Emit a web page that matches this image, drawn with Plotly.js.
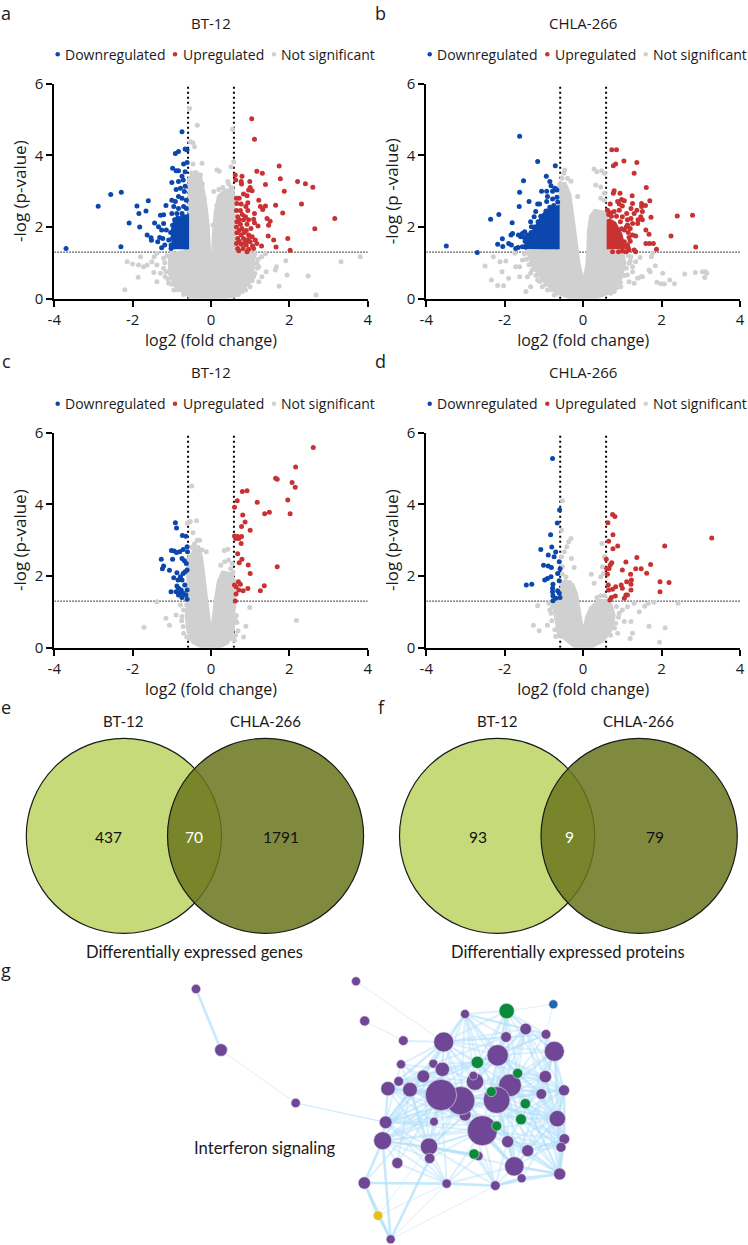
<!DOCTYPE html>
<html><head><meta charset="utf-8">
<script src="https://cdn.plot.ly/plotly-3.0.1.min.js"></script>
<style>html,body{margin:0;padding:0;background:#fff}#c{width:748px;height:1245px}</style>
</head><body><div id="c"></div>
<script>
// ---------- volcano data: [log2 fold change, -log p] ----------
const aGrayCore=[[-.6,3.3],[-.45,3.45],[-.27,3.35],[-.2,3],[-.13,2.5],[-.08,2],[-.05,1.3],[-.03,.8],[0,.45],[.03,.8],[.05,1.3],[.08,1.9],[.12,2.4],[.2,2.85],[.35,3],[.55,3.05],[.57,2.8],[.58,1.35],[1,1.3],[1.1,1],[1,.6],[.85,.3],[.6,.08],[0,0],[-.53,.05],[-.9,.35],[-1.05,.7],[-1.05,1.2],[-.6,1.35]];
const aGray=[[-.55,5.31],[-.35,4.84],[.55,4.73],[-.53,4.38],[-.46,4.35],[-.42,4.24],[-.23,3.78],[-.46,3.76],[.58,3.82],[.51,3.68],[.15,3.59],[.21,3.56],[.43,3.27],[.07,2.99],[.05,2.06],[-.36,3.5],[-.27,3.45],[-2.14,1.03],[-2,.97],[-2.2,.25],[-1.86,.6],[-1.85,.94],[-1.72,.89],[-1.63,.94],[-1.8,1.17],[-1.45,1.17],[-1.38,1.27],[-1.51,1.03],[-1.38,.94],[-1.46,.73],[-1.38,.47],[-1.29,.71],[-1.21,.85],[-1.21,1.13],[-1.08,.43],[-1.17,.61],[-.95,.24],[3.81,1.17],[3.32,1.03],[2.68,.1],[2.48,.63],[1.94,.66],[1.74,.35],[1.91,1.06],[1.67,.89],[1.64,.8],[1.22,.47],[1.09,.61],[1.41,.75],[1.3,.61],[1.05,.99],[1.17,.99],[1.29,1.17],[1.39,1.25],[1.09,1.17],[1.22,.89],[1,.33],[.88,.24],[1.12,1.25],[1.2,1.1],[1.18,.85],[1.12,.7],[1.05,.5],[.95,.4],[.8,.2],[.7,.12],[-.7,.12],[-.85,.25],[-1,.4],[-1.1,.55],[-1.15,.75],[-1.18,1],[-1.12,1.2],[-1,1.28],[-.55,3.3],[-.5,3.5],[-.4,3.52],[-.3,3.4],[-.22,3.2],[-.17,2.8],[.15,2.6],[.2,3.05],[.3,3.1],[.45,3.2],[.52,3.1],[.12,2.2]];
const aBlueCore=[[-.95,1.38],[-.98,1.9],[-.9,2.2],[-.61,2.3],[-.61,1.38]];
const aBlue=[[-3.7,1.4],[-2.88,2.58],[-2.56,2.91],[-2.29,2.97],[-2.3,1.45],[-2.09,2.11],[-1.89,2.59],[-1.84,2.38],[-1.82,2],[-1.66,2.45],[-1.6,2.73],[-1.63,1.78],[-1.53,1.7],[-1.52,1.63],[-1.44,2.11],[-1.36,1.59],[-1.31,1.71],[-1.29,2.33],[-1.21,2.34],[-1.34,2.01],[-1.26,1.92],[-1.15,2.6],[-1.23,1.68],[-1.26,1.42],[-1.18,1.5],[-1.21,2.1],[-1.14,1.92],[-1.08,1.64],[-1.02,1.4],[-.74,4.66],[-.91,4.05],[-.83,4.11],[-.66,4.18],[-.61,4.15],[-.98,3.64],[-.89,3.57],[-.83,3.57],[-.7,3.76],[-.61,3.8],[-.66,3.54],[-.74,3.42],[-1,3.24],[-.83,3.27],[-.71,3.31],[-.89,3.05],[-.78,3.08],[-.66,3.14],[-.68,2.99],[-.83,2.85],[-1,2.75],[-.91,2.71],[-.74,2.8],[-.63,2.75],[-.95,2.57],[-.83,2.52],[-.7,2.57],[-.63,2.52],[-1,2.38],[-.87,2.38],[-.74,2.38],[-1.02,1.5],[-.98,1.7],[-1.03,1.85],[-.98,2.05],[-.93,2.2],[-.85,2.25],[-.72,2.3]];
const aRed=[[1.04,5.02],[1.11,4.45],[1.74,3.7],[1.17,3.56],[1.31,3.5],[1.77,3.35],[2.21,3.27],[2.41,3.21],[2.6,3.11],[1.87,3],[1.39,3.19],[2.31,2.64],[3.16,2.24],[2.65,1.95],[1.96,1.68],[2.02,1.35],[1.83,2.39],[1.65,2.61],[1.6,1.64],[1.66,1.44],[1.46,1.75],[1.29,1.47],[1.43,2.24],[1.51,2.16],[1.47,2.05],[1.22,2.75],[1.26,2.57],[1.39,2.59],[1.32,2.49],[1.11,2.38],[1.09,2.22],[1.11,2.12],[1.2,2.03],[.62,3.45],[.79,3.42],[.63,3.31],[.77,3.27],[.99,3.27],[.78,3.2],[1,3.1],[.96,3.03],[1.05,3.01],[.83,2.92],[.92,2.87],[.65,2.8],[.72,2.8],[.94,2.68],[.66,2.66],[.89,2.57],[.77,2.64],[.65,2.46],[.75,2.46],[.94,2.46],[.68,2.29],[.88,2.29],[.83,2.2],[.96,2.2],[.66,2.15],[.75,2.08],[.92,2.08],[.65,2],[.79,1.96],[1.02,1.96],[.9,1.9],[.66,1.84],[.77,1.78],[.96,1.78],[1.05,1.73],[.68,1.68],[.83,1.68],[1.13,1.64],[.92,1.62],[1,1.59],[.65,1.54],[.77,1.52],[.9,1.5],[1.06,1.47],[.68,1.4],[.82,1.4],[.96,1.38],[1.09,1.4],[1.17,1.54],[.92,1.31],[.71,1.34],[.72,1.9],[.85,1.85],[.72,1.6],[.85,1.55],[.95,1.65],[.72,2.2],[.8,2.35]];

const bGrayCore=[[-.63,3],[-.6,3.2],[-.47,3.2],[-.35,2.9],[-.3,2.5],[-.25,2.1],[-.2,1.6],[-.12,1],[-.03,.55],[0,.3],[.03,.55],[.1,.9],[.13,1.3],[.15,1.9],[.2,2.3],[.3,2.45],[.55,2.4],[.6,2.3],[.6,1.3],[1,1.3],[1.05,1],[.95,.55],[.75,.22],[.3,.02],[0,0],[-.3,.02],[-.7,.2],[-1,.5],[-1.3,.95],[-1.4,1.3],[-.63,1.35]];
const bGray=[[-.47,3.59],[-.5,3.5],[-.4,3.36],[-.54,3.36],[-.31,3.28],[-.59,3.17],[-.44,3.12],[-.48,2.99],[.28,3.62],[.35,3.54],[.47,3.57],[.54,3.5],[.32,3.17],[.45,3.12],[.54,2.94],[.45,2.8],[.54,2.75],[-.14,2.85],[-2.5,.91],[-2.29,1.17],[-2.34,.52],[-2.18,.37],[-2.03,.36],[-2.07,.75],[-2.12,1.03],[-1.97,1.05],[-1.9,.57],[-1.72,.89],[-1.62,.89],[-1.62,.61],[-1.74,1.27],[-1.46,.2],[-1.34,.33],[-1.42,.61],[-1.34,.71],[-1.55,1.08],[-1.16,.52],[-1.04,.33],[-.91,.24],[-.74,.1],[3.12,.75],[3.04,.75],[3.15,.71],[3.1,.59],[2.86,.73],[2.59,.69],[2.33,.42],[2.21,.52],[2.07,.41],[1.98,.42],[1.88,.46],[2.03,.71],[1.84,.92],[1.68,.8],[1.71,.75],[1.77,1.27],[1.74,1.17],[1.45,1.15],[1.47,.61],[1.51,.61],[1.3,.43],[1.26,.89],[1.34,1.03],[1.22,1.17],[1.17,.99],[1.26,.75],[1.13,.66],[.96,.33],[.79,.2],[1.17,.47],[1.39,.57],[-1.5,1.25],[-1.45,1.1],[-1.38,.95],[-1.3,.8],[-1.2,.65],[-1.1,.48],[-.95,.4],[-.8,.25],[-.65,.15],[1.15,1.2],[1.2,1.05],[1.1,.85],[1.05,.65],[.95,.45],[.85,.3],[.7,.15]];
const bBlueCore=[[-1.5,1.38],[-1.4,1.65],[-1.28,1.85],[-1.15,2.1],[-1,2.35],[-.85,2.5],[-.65,2.55],[-.65,1.38]];
const bBlue=[[-1.62,4.53],[-1.16,3.83],[-.71,3.71],[-.94,3.42],[-1.52,3.29],[-1.62,2.97],[-1.63,2.57],[-1.38,2.71],[-.85,3.27],[-.82,3.15],[-1.06,3],[-.93,3],[-.78,3],[-.72,3.08],[-.67,3.03],[-.91,2.85],[-.78,2.78],[-.67,2.83],[-1.16,2.64],[-1.11,2.64],[-.93,2.71],[-2.36,2.22],[-2.15,2.35],[-1.81,2.12],[-2.06,1.67],[-2.18,1.52],[-2.05,1.46],[-1.9,1.54],[-1.83,1.5],[-3.49,1.47],[-2.7,1.29],[-1.84,1.78],[-1.8,1.82],[-1.65,1.78],[-1.55,1.82],[-1.49,1.87],[-1.59,1.73],[-1.5,1.71],[-1.42,1.78],[-1.32,2.01],[-1.34,2.15],[-1.25,2.29],[-1.21,2.43],[-1.72,1.4],[-1.66,1.43],[-1.55,1.45],[-1.48,1.6],[-1.42,1.7],[-1.33,1.85],[-1.25,2],[-1.15,2.15],[-1.08,2.3],[-.95,2.45],[-.85,2.55],[-.75,2.6],[-.65,2.7]];
const bRedCore=[[.65,1.38],[.65,2.2],[.8,2.1],[.95,1.8],[1.05,1.38]];
const bRed=[[.73,4.16],[.85,4.16],[.77,3.71],[.83,3.76],[1.04,3.84],[1.37,3.8],[1.3,3.5],[1.61,3.1],[2.4,2.31],[2.79,2.33],[2.24,1.75],[2.87,1.44],[1.87,1.38],[1.7,2.73],[1.59,2.6],[1.25,2.87],[.94,2.94],[.79,3.01],[.77,2.94],[.69,2.64],[.88,2.71],[.98,2.77],[1.05,2.73],[.92,2.64],[1,2.59],[1.26,2.66],[1.49,2.66],[1.49,2.57],[1.37,2.47],[1.22,2.52],[1.11,2.38],[1.3,2.38],[1.51,2.43],[1.73,2.27],[1.47,2.29],[1.4,2.2],[1.51,2.2],[1.22,2.24],[1.13,2.2],[1.26,2.1],[1.39,2.1],[1.13,2.06],[1.2,1.96],[1.6,1.92],[1.68,1.8],[1.26,1.78],[1.34,1.75],[1.17,1.71],[1.6,1.54],[1.69,1.54],[1.79,1.54],[1.3,1.36],[1.34,1.31],[1.13,1.5],[1.05,1.59],[1.17,1.36],[1.09,1.31],[1,2.29],[1.05,1.92],[.92,2.47],[.79,2.43],[.62,2.47],[.72,2.3],[.85,2.3],[.95,2.15],[.98,1.95],[1.1,2],[1.15,1.85],[1.2,1.6],[1.15,1.42],[1,1.33],[.9,1.31],[.75,1.31],[.65,2.35],[.7,2.4]];

const cGrayCore=[[-.45,2.8],[-.32,2.8],[-.25,2.5],[-.2,2],[-.15,1.5],[-.08,.9],[-.02,.4],[0,.25],[.03,.45],[.07,.9],[.12,1.3],[.2,1.85],[.3,2.1],[.5,2.05],[.58,1.9],[.58,1.3],[.58,1],[.56,.5],[.42,.15],[.2,.02],[0,0],[-.2,.02],[-.45,.15],[-.58,.5],[-.62,.9],[-.58,1.3],[-.58,2.5]];
const cGray=[[-.49,4.51],[-.37,3.54],[-.53,3.52],[-.46,3.21],[-.6,3.47],[-.29,3],[-.23,2.73],[-.12,2.68],[.34,2.71],[.43,2.75],[.54,2.35],[-1.38,1.28],[-1.15,.82],[-.89,.91],[-1.06,.63],[-1.71,.57],[-.71,.59],[-.78,1.19],[-.74,.87],[-.7,.4],[.99,1.12],[2.18,.76],[.89,.6],[.83,.3],[.69,.47],[.62,.77],[.6,.21],[.58,1.14],[-.62,1.2],[-.7,1.05],[-.75,.75],[-.62,.3],[-.55,.25],[.65,.9],[.66,.7],[.62,.35],[.55,.25],[-.55,2.5],[-.5,2.8],[-.42,2.9],[-.35,3],[.25,2.3],[.35,2.4],[.45,2.45],[.5,2.2],[.56,2.1]];
const cBlue=[[-.91,3.49],[-.88,3.34],[-.73,3.13],[-.64,3.11],[-1.27,2.47],[-1.21,2.28],[-1.24,2.2],[-1.06,2.16],[-1.01,2.71],[-.94,2.7],[-.88,2.66],[-.98,2.47],[-.8,2.68],[-.71,2.74],[-.61,2.82],[-.6,2.68],[-.74,2.49],[-.68,2.43],[-.63,2.35],[-.87,2.09],[-.95,1.95],[-.84,1.89],[-.78,1.98],[-.71,2.07],[-.61,2.17],[-.66,2.12],[-.74,1.89],[-.87,1.72],[-1.02,1.56],[-.89,1.56],[-.83,1.66],[-.76,1.61],[-.71,1.52],[-.8,1.52],[-.74,1.4],[-.67,1.75],[-.61,1.61],[-.64,1.47],[-.61,1.35],[-.83,1.47]];
const cRed=[[2.61,5.59],[2.16,5.04],[2.07,4.61],[2.15,4.48],[1.65,4.73],[1.69,4.7],[1.96,4.12],[2.02,3.74],[1.49,3.78],[1.37,3.74],[1.18,4.06],[.8,4.36],[.92,4.38],[.67,4.1],[.6,3.92],[.81,3.7],[.87,3.51],[.78,3.38],[1,3.28],[.6,3.12],[.63,3.05],[.68,3.1],[.71,3.05],[.78,3.1],[.77,2.91],[.68,2.62],[.79,2.47],[.72,2.37],[.95,2.31],[1,2.07],[1.69,2.26],[1.36,1.73],[1.26,1.59],[.7,1.84],[.75,1.77],[.94,1.65],[.64,1.7],[.71,1.61],[.82,1.59],[.64,1.5],[.62,1.3],[.6,1.75]];

const dGrayCore=[[-.58,1.75],[-.27,1.75],[-.18,1.5],[-.1,1],[-.03,.5],[0,.3],[.03,.5],[.1,.85],[.2,1.1],[.4,1.3],[.58,1.3],[.7,1.2],[.78,.9],[.7,.5],[.5,.2],[.2,.03],[0,0],[-.2,.03],[-.4,.2],[-.62,.4],[-.7,.9],[-.75,1.2],[-.6,1.35]];
const dGray=[[-.53,4.1],[-.55,3.28],[-.31,3.05],[-.37,2.96],[-.42,2.82],[-.48,2.68],[-.55,2.54],[-.3,2.49],[-.23,2.24],[-.53,2.26],[-.54,2.06],[-.44,1.98],[.48,2.91],[.54,2.54],[.49,2.26],[.21,2.05],[.45,1.98],[.52,2.07],[.28,1.8],[-1.16,1.17],[-1.27,.63],[-1.12,.47],[-.91,.63],[-.78,1.14],[-.82,.96],[-.87,1.24],[-.7,.31],[2.42,1.24],[1.81,1.27],[1.66,1.24],[1.57,1.16],[1.43,1],[1.13,1.14],[1.3,1.24],[1.68,.6],[2.09,.56],[1.95,.15],[1.2,.26],[1.26,.4],[1.22,.73],[1.05,.73],[.88,.4],[1,1.05],[.92,.96],[.83,.68],[-.55,1.82],[-.45,1.85],[-.35,1.82],[-.28,1.7],[-.85,1.05],[-.8,.75],[-.72,.5],[-.6,.35],[.85,1.15],[.9,.85],[.8,.55],[.7,.35],[.55,1.45],[.45,1.45],[.35,1.4]];
const dBlue=[[-.78,5.28],[-.6,3.84],[-.66,3.48],[-.83,3.15],[-.8,2.81],[-1.08,2.74],[-.7,2.67],[-.89,2.59],[-.74,2.54],[-.61,2.4],[-1.01,2.3],[-.89,2.28],[-.81,2.24],[-.59,2.2],[-.65,2.07],[-.82,1.98],[-.91,1.93],[-.98,1.89],[-.61,1.87],[-1.31,1.77],[-1.45,1.75],[-.77,1.77],[-.78,1.66],[-.78,1.56],[-.65,1.59],[-.61,1.52],[-.77,1.45],[-.7,1.38],[-.77,1.31],[-.59,1.4]];
const dRed=[[3.28,3.06],[2.08,2.84],[.75,3.72],[.81,3.66],[.63,3.49],[.76,3.15],[.65,2.97],[.88,2.84],[.76,2.76],[.59,2.47],[.73,2.37],[.69,2.31],[.66,2.21],[.6,2.2],[.62,2.05],[1.09,2.39],[1.37,2.52],[1.72,2.32],[1.34,2.2],[1.48,2.2],[1.62,2.08],[1,2.17],[1.21,2.05],[1.96,1.84],[2.19,1.82],[1.96,1.56],[1.11,1.84],[1.23,1.89],[1.22,1.77],[1.22,1.61],[.97,1.75],[1,1.66],[.83,1.7],[.75,1.63],[.64,1.75],[.65,1.61],[1.09,1.47],[1.13,1.47],[1.05,1.38],[.82,1.44],[.72,1.4],[.68,1.33]];

const cutX=0.585, cutP=1.3;
const legendLabels=["Downregulated","Upregulated","Not significant"];
const volcanoTitles=["BT-12","CHLA-266","BT-12","CHLA-266"];
const yTitles=["-log (p-value)","-log (p -value)","-log (p-value)","-log (p-value)"];
const xTickVals=[-4,-2,0,2,4], xTickText=["-4","-2","0","2","4"], yTickVals=[0,2,4,6];

// ---------- Venn ----------
const vennCounts=[[437,70,1791],[93,9,79]];
const vennCaptions=["Differentially expressed genes","Differentially expressed proteins"];

// ---------- network (node position, diameter, group) ----------
const netX=[138,213,437,618,644,760,945,1127,1188,1068,881,1213,1043,753,850,877,820,975,970,1186,746,714,780,1080,945,932,873,1040,1242,1174,1222,707,852,997,698,1073,1243,1233,837,1133,985,839,742,1093,1115,1229,643,890,1036,722,684,1210,1070,982,1103,1024,1126,1113,1040,972];
const netY=[87,270,429,64,183,242,162,207,223,231,246,274,286,313,311,328,349,365,347,350,364,386,389,376,465,422,405,420,391,402,476,487,485,512,542,545,537,562,560,572,588,595,609,619,655,642,669,671,677,838,767,133,153,307,340,395,431,478,498,582];
const netD=[28,38,28,27,30,29,27,35,29,32,60,60,64,27,27,43,38,52,26,37,29,43,44,68,36,85,94,80,33,32,49,38,26,90,54,36,32,30,52,36,28,31,33,58,27,36,37,28,29,27,28,27,46,37,30,30,31,33,30,31];
const netGroup=[0,0,0,0,0,0,0,0,0,0,0,0,0,0,0,0,0,0,0,0,0,0,0,0,0,0,0,0,0,0,0,0,0,0,0,0,0,0,0,0,0,0,0,0,0,0,0,0,0,0,3,2,1,1,1,1,1,1,1,1];
const netHubs={10:[6,5,14,15,16,26,25,12,17,53,23,27,33,22,21,20,13,52,9,7,8,11],6:[12,53,17,23,27,25,15,52,9,7,14,16,54,8],52:[9,12,23,54,27,53,7,8,11,17,19,55],12:[7,8,11,19,23,54,29,27,33,15,25,26,56,57,16,22,28],23:[7,8,11,19,28,29,30,39,43,35,36,37,26,25,16],27:[7,11,19,28,29,30,36,37,39,43,45,44,35,33,21,22,31,34],33:[34,31,21,22,38,41,47,48,43,39,30,29,28,36,37,45,44,15,16,20],26:[20,21,22,31,34,38,41,42,46,47,32,16,13,30,57,39,43],25:[31,34,38,41,43,48,39,35,21,22,30,28],11:[7,8,19,28,29,30,54,56,57,39,36,37],30:[19,28,29,36,37,39,43,45,44,56,57,35,54],45:[39,43,48,35,57,56,29,19,56],21:[31,34,38,22,16,20,15,53,17,32],31:[34,38,41,47,32,22,16,13,58,55],34:[42,47,38,41,40,22,16,59],38:[47,40,48,59,41,22,43],47:[41,43,40,42],54:[7,19,56,57,29,28],39:[37,43,35,28,36],48:[43,44,40,59,35],14:[15,53,17,9,22,21],17:[9,7,19,54,29,31,34],53:[7,8,57,58,19,22,31],55:[7,30,43,22,34,38,28],57:[36,37,35,19,28],58:[38,21,39,34,45],7:[19,29,8,28],8:[19,29,28],19:[28,36,37,29],29:[36,37,43],36:[37,39,43],35:[37,44,43],16:[22,20,13,15,38,31],22:[13,20,38,41,42],15:[20,13,31,38],24:[31,38,43,30]};
const netStrong=[[0,1],[46,34],[46,47],[46,49],[50,49],[46,50],[49,41],[49,34],[47,48],[48,44],[44,45],[28,36],[36,45],[28,30],[37,45],[43,45]];
const netFaint=[[1,2],[3,10],[4,5],[52,51],[49,48],[50,47],[50,38],[51,8],[49,47],[2,31],[2,31]];

// ---------- page geometry ----------
const W=748,H=1245;
const colX=[[54.3,367.7],[426.3,740]];
const rowY=[[83.7,298.7],[432.7,647.7]];
const BLUE='#0b47ad',RED='#c83232',GRAY='#d0d0d0';
const FONT='"Open Sans", sans-serif', VF='Lato, sans-serif';

const layout={width:W,height:H,margin:{l:0,r:0,t:0,b:0},paper_bgcolor:'#fff',plot_bgcolor:'rgba(0,0,0,0)',showlegend:false,
  font:{family:FONT,size:14,color:'#1a1a1a'},hovermode:false,shapes:[],annotations:[]};
const traces=[];
function note(text,x,y,size,opt){layout.annotations.push(Object.assign({text:String(text),x:x,y:y,xref:'x5',yref:'y5',showarrow:false,xanchor:'center',yanchor:'middle',font:{family:FONT,size:size,color:'#1a1a1a'}},opt||{}));}
function core(pts,col,xa,ya){traces.push({x:pts.map(p=>p[0]),y:pts.map(p=>p[1]),xaxis:xa,yaxis:ya,mode:'lines',fill:'toself',fillcolor:col,line:{color:col,width:4},hoverinfo:'skip'});}
function dots(pts,col,xa,ya){traces.push({type:'scatter',x:pts.map(p=>p[0]),y:pts.map(p=>p[1]),xaxis:xa,yaxis:ya,mode:'markers',marker:{color:col,size:5},cliponaxis:false,hoverinfo:'skip'});}

const panels=[
 {gc:aGrayCore,g:aGray,bc:aBlueCore,b:aBlue,rc:null,r:aRed},
 {gc:bGrayCore,g:bGray,bc:bBlueCore,b:bBlue,rc:bRedCore,r:bRed},
 {gc:cGrayCore,g:cGray,bc:null,b:cBlue,rc:null,r:cRed},
 {gc:dGrayCore,g:dGray,bc:null,b:dBlue,rc:null,r:dRed}];
panels.forEach((p,i)=>{
  const col=i%2,row=Math.floor(i/2),n=i+1;
  const xa=n===1?'x':'x'+n, ya=n===1?'y':'y'+n;
  const xk=n===1?'xaxis':'xaxis'+n, yk=n===1?'yaxis':'yaxis'+n;
  layout[xk]={domain:[colX[col][0]/W,colX[col][1]/W],range:[-4,4],tickmode:'array',tickvals:xTickVals,ticktext:xTickText,ticks:'outside',ticklen:6,tickwidth:2,tickcolor:'#000',showline:true,linecolor:'#000',linewidth:2,showgrid:false,zeroline:false,anchor:ya,tickfont:{size:15,family:FONT,color:'#1a1a1a'},title:{text:'log2 (fold change)',standoff:6,font:{size:16,family:FONT,color:'#1a1a1a'}}};
  layout[yk]={domain:[1-rowY[row][1]/H,1-rowY[row][0]/H],range:[0,6],tickmode:'array',tickvals:yTickVals,ticks:'outside',ticklen:6,tickwidth:2,tickcolor:'#000',showline:true,linecolor:'#000',linewidth:2,showgrid:false,zeroline:false,anchor:xa,tickfont:{size:15,family:FONT,color:'#1a1a1a'},title:{text:yTitles[i],standoff:4,font:{size:17,family:FONT,color:'#1a1a1a'}}};
  [-cutX,cutX].forEach(v=>layout.shapes.push({type:'line',layer:'below',xref:xa,yref:ya,x0:v,x1:v,y0:0,y1:6,line:{color:'#000',width:2,dash:'2px,3px'}}));
  layout.shapes.push({type:'line',layer:'below',xref:xa,yref:ya,x0:-4,x1:4,y0:cutP,y1:cutP,line:{color:'#000',width:1,dash:'1.5px,1.5px'}});
  core(p.gc,GRAY,xa,ya); dots(p.g,GRAY,xa,ya);
  if(p.bc)core(p.bc,BLUE,xa,ya); dots(p.b,BLUE,xa,ya);
  if(p.rc)core(p.rc,RED,xa,ya); dots(p.r,RED,xa,ya);
  // title + legend
  const cx=col?583:210.7, ty=row?372:22.7, ly=row?403.7:54.3;
  note(volcanoTitles[i],cx,ty,15);
  const keyX=col?[429.7,547.3,645.7]:[57.7,175,274], txtX=col?[435,553.4,650.7]:[63.4,181,278.7];
  [BLUE,RED,GRAY].forEach((c,k)=>{
    traces.push({x:[keyX[k]],y:[ly],xaxis:'x5',yaxis:'y5',mode:'markers',marker:{color:c,size:4.5},hoverinfo:'skip'});
    note(legendLabels[k],txtX[k],ly,14,{xanchor:'left'});
  });
});

// overlay axis in page pixels
const hidden={showgrid:false,zeroline:false,showline:false,showticklabels:false,ticks:''};
layout.xaxis5=Object.assign({domain:[0,1],range:[0,W],anchor:'y5'},hidden);
layout.yaxis5=Object.assign({domain:[0,1],range:[H,0],anchor:'x5'},hidden);
layout.xaxis6=Object.assign({domain:[150/W,610/W],range:[0,1380],anchor:'y6'},hidden);
layout.yaxis6=Object.assign({domain:[0,285/H],range:[855,0],anchor:'x6'},hidden);

// panel letters
[['a',6,13],['b',380,13],['c',6,361],['d',380,361],['e',6,707],['f',381,707],['g',6,970]].forEach(l=>note(l[0],l[1],l[2],18));

// Venn diagrams
const vennCircles=[[[26.3,221.5],[167.5,363.6]],[[399.5,594.7],[541,737.3]]];
const vennTextX=[{l:[123.4,265.5],n:[108,193.8,281],c:194.7},{l:[496.7,638.8],n:[477.5,569,655],c:568}];
vennCircles.forEach((v,i)=>{
  layout.shapes.push({type:'circle',layer:'above',xref:'x5',yref:'y5',x0:v[0][0],x1:v[0][1],y0:738.3,y1:933.3,fillcolor:'#c6da7a',line:{color:'#1a1a1a',width:1.2}});
  layout.shapes.push({type:'circle',layer:'above',xref:'x5',yref:'y5',x0:v[1][0],x1:v[1][1],y0:738.3,y1:933.3,fillcolor:'rgba(106,118,29,0.85)',line:{color:'#1a1a1a',width:1.2}});
  const t=vennTextX[i];
  note('BT-12',t.l[0],720.7,15,{font:{family:VF,size:15,color:'#1a1a1a'}});
  note('CHLA-266',t.l[1],720.7,15,{font:{family:VF,size:15,color:'#1a1a1a'}});
  vennCounts[i].forEach((c,k)=>note(c,t.n[k],836.7,15.5,{font:{family:VF,size:15.5,color:k===1?'#fff':'#111'}}));
  note(vennCaptions[i],t.c,952,16.5,{font:{family:VF,size:16.5,color:'#1a1a1a'}});
});

// network
function edgeTrace(pairs,w,col){const x=[],y=[];pairs.forEach(e=>{x.push(netX[e[0]],netX[e[1]],null);y.push(netY[e[0]],netY[e[1]],null);});
  traces.push({x:x,y:y,xaxis:'x6',yaxis:'y6',mode:'lines',line:{color:col,width:w},hoverinfo:'skip'});}
edgeTrace(netFaint,1,'rgba(190,228,250,0.55)');
Object.keys(netHubs).forEach(h=>{edgeTrace(netHubs[h].map(t=>[+h,t]),2,'rgba(175,222,250,0.42)');});
edgeTrace(netStrong,2.6,'rgba(180,225,250,0.75)');
const groupColors=['#704796','#0b8a3c','#1f66ad','#e8c20a'];
traces.push({x:netX,y:netY,xaxis:'x6',yaxis:'y6',mode:'markers',hoverinfo:'skip',marker:{size:netD.map(d=>d/3),opacity:1,color:netGroup.map(g=>groupColors[g]),line:{color:'#e4e4e4',width:0.6}}});
note('Interferon signaling',264,1148,16.7,{font:{family:VF,size:16.7,color:'#1a1a1a'}});

Plotly.newPlot('c',traces,layout,{displayModeBar:false,staticPlot:true});
</script></body></html>
